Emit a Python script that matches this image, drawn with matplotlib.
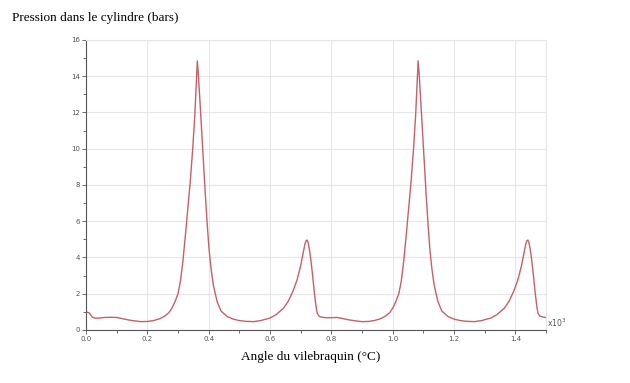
import matplotlib
matplotlib.use("Agg")
import matplotlib.pyplot as plt
import matplotlib.ticker as ticker

# angle du vilebrequin (degres) et pression (bars)
angle = [0, 10, 20, 30, 45, 60, 80, 100, 120, 140, 160, 180, 200, 220, 240, 255,
         270, 280, 290, 300, 308, 316, 324, 332, 340, 348, 355, 360, 363, 366,
         371, 377, 383, 389, 395, 401, 407, 415, 427, 440, 460, 480, 500, 520,
         546, 570, 600, 620, 644, 660, 675, 688, 700, 708, 714, 718, 721, 724,
         728, 733, 739, 745, 750, 754, 760,
         765, 780, 800, 820, 840, 860, 880, 900, 920, 940, 960, 975, 990, 1000,
         1010, 1020, 1028, 1036, 1044, 1052, 1060, 1068, 1075, 1080, 1083, 1086,
         1091, 1097, 1103, 1109, 1115, 1121, 1127, 1135, 1147, 1160, 1180, 1200,
         1220, 1240, 1266, 1290, 1320, 1340, 1364, 1380, 1395, 1408, 1420, 1428,
         1434, 1438, 1441, 1444, 1448, 1453, 1459, 1465, 1470, 1474, 1480, 1490,
         1500]
pression = [1.0, 0.95, 0.72, 0.65, 0.66, 0.69, 0.70, 0.69, 0.62, 0.55, 0.50, 0.46,
            0.47, 0.52, 0.62, 0.75, 0.95, 1.2, 1.55, 2.0, 2.7, 3.8, 5.2, 6.7, 8.2,
            10.0, 11.9, 13.7, 14.85, 14.2, 12.8, 11.0, 9.2, 7.5, 5.9, 4.5, 3.5,
            2.5, 1.6, 1.05, 0.75, 0.60, 0.52, 0.48, 0.46, 0.52, 0.66, 0.85, 1.2,
            1.6, 2.15, 2.75, 3.55, 4.25, 4.75, 4.93, 4.96, 4.85, 4.5, 3.9, 3.0, 2.0,
            1.3, 0.92, 0.76,
            0.72, 0.68, 0.68, 0.69, 0.62, 0.55, 0.50, 0.46, 0.47, 0.52, 0.62, 0.75,
            0.95, 1.2, 1.55, 2.0, 2.7, 3.8, 5.2, 6.7, 8.2, 10.0, 11.9, 13.7, 14.85,
            14.2, 12.8, 11.0, 9.2, 7.5, 5.9, 4.5, 3.5, 2.5, 1.6, 1.05, 0.75, 0.60,
            0.52, 0.48, 0.46, 0.52, 0.66, 0.85, 1.2, 1.6, 2.15, 2.75, 3.55, 4.25,
            4.75, 4.93, 4.96, 4.85, 4.5, 3.9, 3.0, 2.0, 1.3, 0.92, 0.76, 0.72,
            0.68]

x = [a / 1000 for a in angle]

fig = plt.figure(figsize=(6.3, 3.83), dpi=100)
ax = fig.add_axes([0.1365, 0.1384, 0.7302, 0.7572])

ax.plot(x, pression, color="#c4606c", linewidth=1.0)

ax.set_xlim(0, 1.5)
ax.set_ylim(0, 16)
ax.xaxis.set_major_locator(ticker.MultipleLocator(0.2))
ax.xaxis.set_minor_locator(ticker.MultipleLocator(0.1))
ax.yaxis.set_major_locator(ticker.MultipleLocator(2))
ax.yaxis.set_minor_locator(ticker.MultipleLocator(1))
ax.xaxis.set_major_formatter(ticker.FormatStrFormatter("%.1f"))
ax.grid(True, which="major", color="#e6e6e6", linewidth=0.8)

ax.tick_params(which="both", direction="out", colors="#555555", labelsize=5, pad=1.5)
ax.tick_params(which="major", length=3, width=0.6)
ax.tick_params(which="minor", length=2, width=0.6)
for s in ["left", "bottom"]:
    ax.spines[s].set_color("#555555")
    ax.spines[s].set_linewidth(0.8)
for s in ["top", "right"]:
    ax.spines[s].set_color("#e6e6e6")
    ax.spines[s].set_linewidth(0.8)

ax.text(1.003, 0.005, r"x10$^3$", transform=ax.transAxes, fontsize=5.5,
        color="#555555", ha="left", va="bottom")

fig.text(12 / 630, 1 - 18 / 383, "Pression dans le cylindre (bars)",
         family="Liberation Serif", fontsize=9.5, ha="left", va="center")
fig.text(311 / 630, 1 - 357 / 383, "Angle du vilebraquin (°C)",
         family="Liberation Serif", fontsize=9.5, ha="center", va="center")

fig.savefig("out.png", dpi=100)
